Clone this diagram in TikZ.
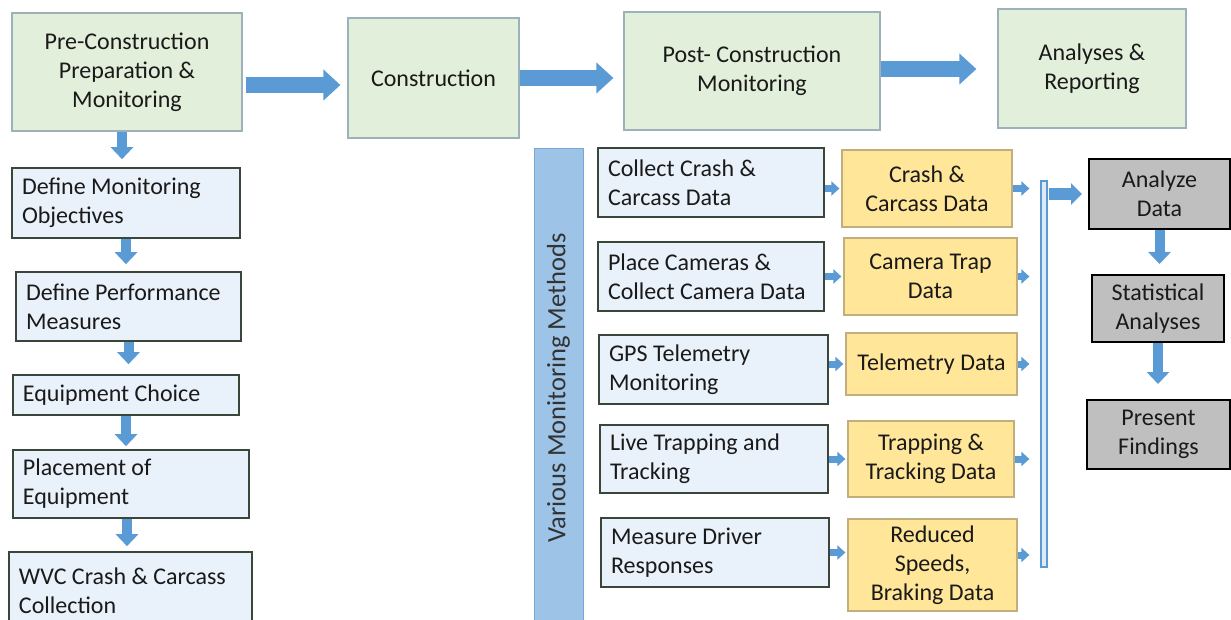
\documentclass[tikz,border=0pt]{standalone}
\usepackage{fontspec}
\setmainfont{Carlito}
\usetikzlibrary{arrows.meta}
\definecolor{phasefill}{HTML}{E2EFDA}
\definecolor{phaseline}{HTML}{9DB1BC}
\definecolor{taskfill}{HTML}{E9F1FA}
\definecolor{taskline}{HTML}{3A463A}
\definecolor{datafill}{HTML}{FFE699}
\definecolor{dataline}{HTML}{C2AE7C}
\definecolor{resultfill}{HTML}{BFBFBF}
\definecolor{arrowblue}{HTML}{5B9BD5}
\definecolor{barfill}{HTML}{9DC3E6}
\definecolor{barline}{HTML}{7AA6D6}
\definecolor{busfill}{HTML}{DEEBF7}
\definecolor{ink}{HTML}{1A1A1A}
\tikzstyle{phase} = [rectangle, align=flush center, draw=phaseline, line width=1.2pt, fill=phasefill, inner sep=0pt, text=ink, font=\fontsize{24}{29}\selectfont]
\tikzstyle{task} = [rectangle, align=flush left, draw=taskline, line width=1.6pt, fill=taskfill, inner xsep=10pt, inner ysep=0pt, text=ink, font=\fontsize{24}{29}\selectfont]
\tikzstyle{dataset} = [rectangle, align=flush center, draw=dataline, line width=1.2pt, fill=datafill, inner sep=0pt, text=ink, font=\fontsize{24}{29}\selectfont]
\tikzstyle{result} = [rectangle, align=flush center, draw=black, line width=2pt, fill=resultfill, inner sep=0pt, text=ink, font=\fontsize{24}{29}\selectfont]
\tikzstyle{methodbar} = [rectangle, draw=barline, line width=1pt, fill=barfill, inner sep=0pt, text=black!80, font=\fontsize{26.5}{31}\selectfont]
\tikzstyle{bus} = [rectangle, draw=arrowblue, line width=1.2pt, fill=busfill, inner sep=0pt]
\tikzstyle{bigarrow} = [line width=16pt, arrowblue, -{Triangle[length=17pt, width=30pt]}]
\tikzstyle{midarrow} = [line width=12pt, arrowblue, -{Triangle[length=11pt, width=21pt]}]
\tikzstyle{downarrow} = [line width=10pt, arrowblue, -{Triangle[length=12pt, width=22pt]}]
\tikzstyle{smallarrow} = [line width=7pt, arrowblue, -{Triangle[length=8pt, width=14pt]}]

\begin{document}
\begin{tikzpicture}[x=1pt, y=-1pt, node distance = 0pt]
				\useasboundingbox (0,0) rectangle (1231,620);
				%\node(label)[type]{name}
				\node(pre)[phase, minimum width=230pt, minimum height=118pt] at (127,72) {Pre-Construction\\Preparation \&\\Monitoring};
				\node(cons)[phase, right of = pre, xshift = 306.5pt, yshift = -6pt, minimum width=171pt, minimum height=120pt]{Construction};
				\node(post)[phase, right of = cons, xshift = 318.5pt, yshift = 7pt, minimum width=256pt, minimum height=118pt]{Post- Construction\\Monitoring};
				\node(anal)[phase, right of = post, xshift = 340pt, yshift = 2.5pt, minimum width=188pt, minimum height=119pt]{Analyses \&\\Reporting};
				
				\node(obj)[task, below of = pre, xshift = -1pt, yshift = -131pt, text width=208pt, minimum height=70pt]{Define Monitoring\\Objectives};
				\node(perf)[task, below of = obj, xshift = 2.5pt, yshift = -103.5pt, text width=205pt, minimum height=69pt]{Define Performance\\Measures};
				\node(equip)[task, below of = perf, xshift = -2.5pt, yshift = -88.5pt, text width=206pt, minimum height=40pt]{Equipment Choice};
				\node(place)[task, below of = equip, xshift = 5pt, yshift = -89pt, text width=216pt, minimum height=68pt]{Placement of\\Equipment};
				\node(wvc)[task, below of = place, xshift = -0.5pt, yshift = -107pt, text width=223pt, minimum height=78pt]{WVC Crash \& Carcass\\Collection};
				
				\node(bar)[methodbar, rotate=90, minimum width=478pt, minimum height=49pt] at (558.5,388) {Various Monitoring Methods};
				
				\node(m1)[task, text width=206pt, minimum height=69pt] at (711,182.5) {Collect Crash \&\\Carcass Data};
				\node(m2)[task, below of = m1, yshift = -94pt, text width=206pt, minimum height=69pt]{Place Cameras \&\\Collect Camera Data};
				\node(m3)[task, below of = m2, xshift = 2.5pt, yshift = -93pt, text width=209pt, minimum height=69pt]{GPS Telemetry\\Monitoring};
				\node(m4)[task, below of = m3, xshift = 0.5pt, yshift = -89.5pt, text width=208pt, minimum height=68pt]{Live Trapping and\\Tracking};
				\node(m5)[task, below of = m4, xshift = 1pt, yshift = -93.5pt, text width=208pt, minimum height=69pt]{Measure Driver\\Responses};
				
				\node(d1)[dataset, right of = m1, xshift = 216pt, yshift = -6pt, minimum width=170pt, minimum height=77pt]{Crash \&\\Carcass Data};
				\node(d2)[dataset, right of = m2, xshift = 219.5pt, minimum width=173pt, minimum height=77pt]{Camera Trap\\Data};
				\node(d3)[dataset, right of = m3, xshift = 218pt, yshift = 5.5pt, minimum width=171pt, minimum height=62pt]{Telemetry Data};
				\node(d4)[dataset, right of = m4, xshift = 217pt, minimum width=166pt, minimum height=76pt]{Trapping \&\\Tracking Data};
				\node(d5)[dataset, right of = m5, xshift = 217.5pt, yshift = -12.5pt, minimum width=169pt, minimum height=92pt]{Reduced\\Speeds,\\Braking Data};
				
				\node(collect)[bus, minimum width=6pt, minimum height=386pt] at (1044,374) {};
				
				\node(g1)[result, minimum width=141pt, minimum height=70pt] at (1159.5,194) {Analyze\\Data};
				\node(g2)[result, below of = g1, xshift = -1.5pt, yshift = -114.5pt, minimum width=132pt, minimum height=67pt]{Statistical\\Analyses};
				\node(g3)[result, below of = g2, xshift = 0.5pt, yshift = -126pt, minimum width=143pt, minimum height=69pt]{Present\\Findings};
				
				%arrows
					\draw [bigarrow, shorten <=3pt, shorten >=7pt] ([yshift=-13pt]pre.east) -- ([yshift=-13pt]pre.east -| cons.west);
					\draw [bigarrow, shorten >=10pt] (cons.east) -- (cons.east -| post.west);
					\draw [bigarrow, shorten >=21pt] ([yshift=2pt]post.east) -- ([yshift=2pt]post.east -| anal.west);
					
					\draw [downarrow, shorten >=8pt] ([xshift=-5pt]pre.south) -- ([xshift=-5pt]pre.south |- obj.north);
					\draw [downarrow, shorten >=7pt] (obj.south) -- (obj.south |- perf.north);
					\draw [downarrow, shorten >=10pt] (perf.south) -- (perf.south |- equip.north);
					\draw [downarrow, shorten >=3pt] (equip.south) -- (equip.south |- place.north);
					\draw [downarrow, shorten >=5pt] ([xshift=-4pt]place.south) -- ([xshift=-4pt]place.south |- wvc.north);
					
					\draw [smallarrow, shorten >=2pt] (m1.east |- d1.west) -- (d1.west);
					\draw [smallarrow, shorten >=2pt] (m2.east) -- (d2.west);
					\draw [smallarrow, shorten >=2pt] (m3.east |- d3.west) -- (d3.west);
					\draw [smallarrow, shorten >=2pt] (m4.east) -- (d4.west);
					\draw [smallarrow, shorten >=2pt] (m5.east) -- (m5.east -| d5.west);
					
					\draw [smallarrow, shorten >=11pt] (d1.east) -- (d1.east -| collect.west);
					\draw [smallarrow, shorten >=11pt] (d2.east) -- (d2.east -| collect.west);
					\draw [smallarrow, shorten >=11pt] (d3.east) -- (d3.east -| collect.west);
					\draw [smallarrow, shorten >=11pt] (d4.east) -- (d4.east -| collect.west);
					\draw [smallarrow, shorten >=11pt] ([yshift=10pt]d5.east) -- ([yshift=10pt]d5.east -| collect.west);
					
					\draw [midarrow, shorten <=1pt, shorten >=6pt] (collect.east |- g1.west) -- (g1.west);
					\draw [downarrow, shorten >=10pt] (g1.south) -- (g1.south |- g2.north);
					\draw [downarrow, shorten >=15pt] (g2.south) -- (g2.south |- g3.north);
				\end{tikzpicture}
\end{document}
